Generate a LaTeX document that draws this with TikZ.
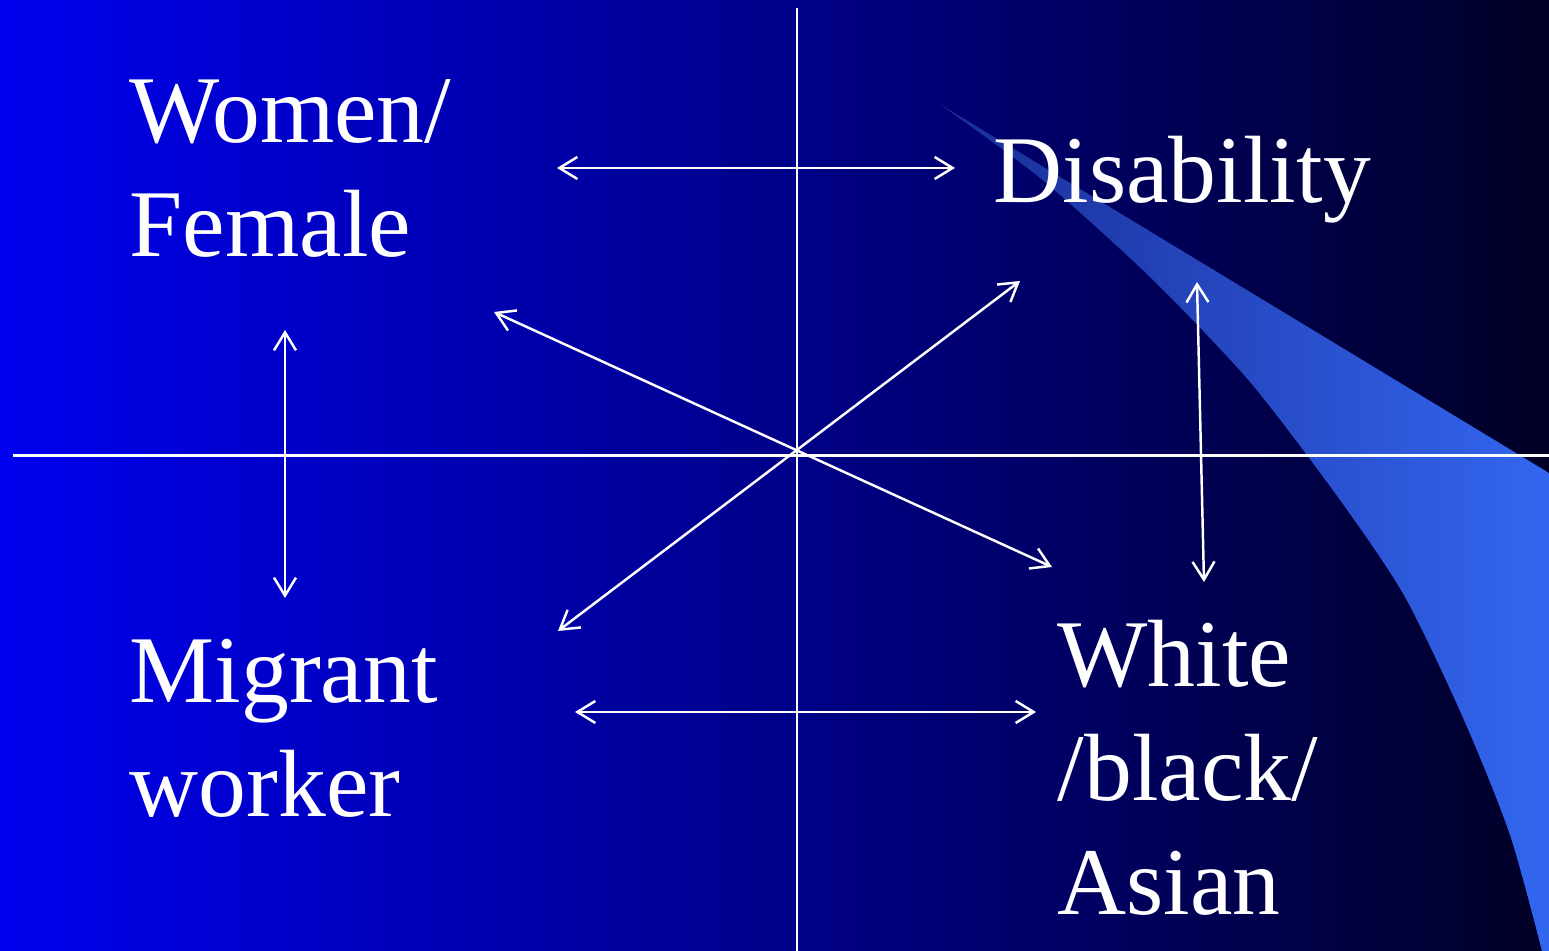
\documentclass[tikz,border=0pt]{standalone}
\usepackage{fontspec}
\setmainfont{Liberation Serif}
\usetikzlibrary{arrows.meta}

\definecolor{bgleft}{RGB}{0,0,238}
\definecolor{bgmid}{RGB}{0,0,175}
\definecolor{bgright}{RGB}{0,0,38}
\definecolor{swoopdark}{RGB}{25,45,150}
\definecolor{swooplight}{RGB}{51,102,240}

\begin{document}
\begin{tikzpicture}[
    axis/.style={white, line width=0.8pt},
    link/.style={white, line width=0.7pt,
        {Straight Barb[length=1.8mm,width=2.2mm]}-{Straight Barb[length=1.8mm,width=2.2mm]}},
    word/.style={white, anchor=base west, inner sep=0pt, align=left,
        font=\fontsize{27.2}{32.5}\selectfont}]

    \useasboundingbox (0,0) rectangle (15.49,-9.51);
    \shade[left color=bgleft, middle color=bgmid, right color=bgright] (0,0) rectangle (15.49,-9.51);

    % the light swoop on the right
    \shade[left color=swoopdark, right color=swooplight]
        (9.38,-1.03) -- (15.49,-4.73) -- (15.49,-9.51)
        -- plot[smooth, tension=0.45] coordinates {(15.42,-9.51) (15.10,-8.35) (14.64,-7.20)
            (14.05,-5.97) (13.40,-5.00) (12.50,-3.82) (11.50,-2.77) (10.40,-1.78) (9.38,-1.03)}
        -- cycle;

    \coordinate (vtop) at (7.97,-0.08);
    \coordinate (vbot) at (7.97,-9.51);
    \coordinate (hleft) at (0.13,-4.555);
    \coordinate (hright) at (15.49,-4.555);
    \draw[axis] (vtop) -- (vbot);
    \draw[axis] (hleft) -- (hright);

    % base anchor sits on the last line
    \node[word] (women) at (1.29,-2.57) {Women/\\Female};
    \node[word] (disab) at (9.93,-2.03) {Disability};
    \node[word] (migrant) at (1.29,-8.17) {Migrant\\worker};
    \node[word] (white) at (10.57,-9.15) {White\\/black/\\Asian};

    \coordinate (wd1) at (5.57,-1.68);
    \coordinate (wd2) at (9.55,-1.68);
    \coordinate (wm1) at (2.85,-3.30);
    \coordinate (wm2) at (2.85,-5.98);
    \coordinate (ww1) at (4.94,-3.12);
    \coordinate (ww2) at (10.52,-5.67);
    \coordinate (md1) at (5.58,-6.31);
    \coordinate (md2) at (10.20,-2.81);
    \coordinate (dw1) at (11.97,-2.82);
    \coordinate (dw2) at (12.04,-5.82);
    \coordinate (mw1) at (5.75,-7.12);
    \coordinate (mw2) at (10.36,-7.12);

    \draw[link] (wd1) -- (wd2);
    \draw[link] (wm1) -- (wm2);
    \draw[link] (ww1) -- (ww2);
    \draw[link] (md1) -- (md2);
    \draw[link] (dw1) -- (dw2);
    \draw[link] (mw1) -- (mw2);

\end{tikzpicture}
\end{document}
